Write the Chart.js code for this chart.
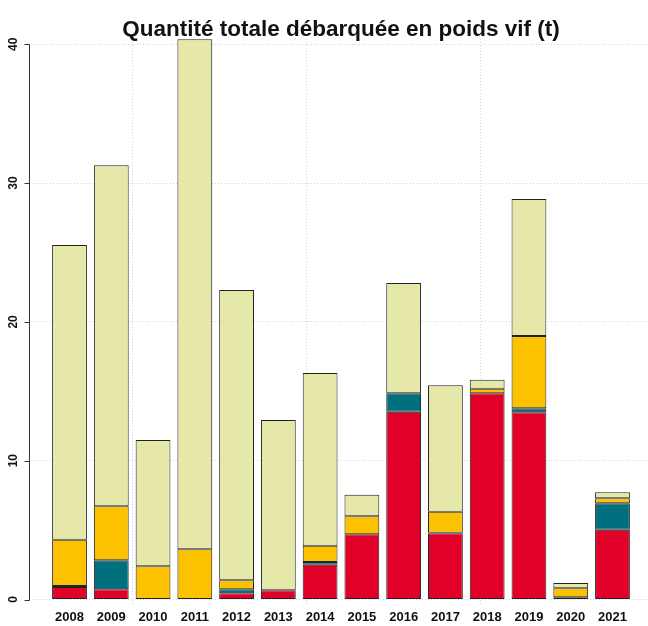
<!DOCTYPE html>
<html lang="fr">
<head>
<meta charset="utf-8">
<title>Quantité totale débarquée en poids vif</title>
<script src="https://cdn.jsdelivr.net/npm/chart.js@4.4.1/dist/chart.umd.min.js"></script>
<style>
  html, body { margin: 0; padding: 0; background: #fff; overflow: hidden; }
  canvas { display: block; }
</style>
</head>
<body>
<canvas id="chart" width="660" height="626"></canvas>
<script>
// Data (t), one value per stacked segment, bottom to top
const TITLE = 'Quantité totale débarquée en poids vif (t)';
const years = ['2008', '2009', '2010', '2011', '2012', '2013', '2014',
               '2015', '2016', '2017', '2018', '2019', '2020', '2021'];
const redValues    = [0.90, 0.73, 0.00, 0.00, 0.45, 0.66, 2.51, 4.70, 13.53, 4.77, 14.86, 13.49, 0.16, 5.03];
const tealValues   = [0.07, 2.09, 0.00, 0.00, 0.28, 0.00, 0.19, 0.00, 1.33, 0.04, 0.00, 0.29, 0.00, 1.90];
const yellowValues = [3.34, 3.89, 2.39, 3.62, 0.65, 0.00, 1.18, 1.29, 0.00, 1.52, 0.33, 5.20, 0.65, 0.36];
const khakiValues  = [21.23, 24.57, 9.10, 36.74, 20.92, 12.27, 12.44, 1.56, 7.94, 9.10, 0.65, 9.87, 0.38, 0.43];
const yTicks = [0, 10, 20, 30, 40];
const xGridTicks = [0, 5, 10, 15];

// barplot layout: bars of width 1 with a 0.2 gap
const barPos = years.map((_, i) => 0.7 + 1.2 * i);
const X_MIN = -0.464, X_MAX = 17.464;
const Y_MIN = -0.468, Y_MAX = 40.38;

const FONT = '"Liberation Sans", Arial, sans-serif';
const GRID_COLOR = '#d3d3d3';

function makeSet(label, values, color) {
    return {
        label: label,
        data: values.map((v, i) => ({ x: barPos[i], y: v })),
        backgroundColor: color,
        borderColor: '#222',
        borderWidth: 1,
        borderSkipped: false,
        barPercentage: 1,
        categoryPercentage: 1 / 1.2,
        clip: false
    };
}

// axis line, rotated y labels and the title, drawn like base R
const rAxisPlugin = {
    id: 'rAxis',
    afterDraw(chart) {
        const { ctx, chartArea, scales } = chart;
        const y = scales.y;
        const x0 = Math.round(chartArea.left) + 0.5;
        ctx.save();
        ctx.strokeStyle = '#333';
        ctx.lineWidth = 1;
        ctx.beginPath();
        ctx.moveTo(x0, Math.round(y.getPixelForValue(yTicks[0])) + 0.5);
        ctx.lineTo(x0, Math.round(y.getPixelForValue(yTicks[yTicks.length - 1])) + 0.5);
        yTicks.forEach(v => {
            const py = Math.round(y.getPixelForValue(v)) + 0.5;
            ctx.moveTo(x0 - 5, py);
            ctx.lineTo(x0, py);
        });
        ctx.stroke();

        ctx.fillStyle = '#111';
        ctx.font = 'bold 12px ' + FONT;
        ctx.textAlign = 'center';
        ctx.textBaseline = 'middle';
        yTicks.forEach(v => {
            ctx.save();
            ctx.translate(14, y.getPixelForValue(v));
            ctx.rotate(-Math.PI / 2);
            ctx.fillText(String(v), 0, 0);
            ctx.restore();
        });

        ctx.font = 'bold 22.5px ' + FONT;
        ctx.textBaseline = 'alphabetic';
        ctx.fillText(TITLE, (chartArea.left + chartArea.right) / 2, 36);
        ctx.restore();
    }
};

const chart = new Chart(document.getElementById('chart'), {
    type: 'bar',
    data: {
        datasets: [
            makeSet('rouge', redValues, '#E00028'),
            makeSet('bleu', tealValues, '#00707F'),
            makeSet('jaune', yellowValues, '#FCC200'),
            makeSet('kaki', khakiValues, '#E6E8AA')
        ]
    },
    options: {
        responsive: false,
        animation: false,
        layout: { padding: { top: 39, right: 7, bottom: 0, left: 0 } },
        plugins: {
            legend: { display: false },
            title: { display: false },
            tooltip: { enabled: false }
        },
        scales: {
            x: {
                type: 'linear',
                stacked: true,
                offset: false,
                min: X_MIN,
                max: X_MAX,
                position: 'bottom',
                grid: { display: false },
                border: { display: false },
                afterBuildTicks: scale => { scale.ticks = barPos.map(v => ({ value: v })); },
                afterFit: scale => { scale.height = 20; },
                ticks: {
                    autoSkip: false,
                    maxRotation: 0,
                    padding: -4,
                    color: '#111',
                    font: { family: FONT, size: 13, weight: 'bold' },
                    callback: (value, index) => years[index]
                }
            },
            x2: {
                type: 'linear',
                offset: false,
                min: X_MIN,
                max: X_MAX,
                position: 'bottom',
                afterBuildTicks: scale => { scale.ticks = xGridTicks.map(v => ({ value: v })); },
                afterFit: scale => { scale.height = 0; },
                grid: { color: GRID_COLOR, drawTicks: false },
                border: { display: false, dash: [1, 2] },
                ticks: { display: false }
            },
            y: {
                stacked: true,
                min: Y_MIN,
                max: Y_MAX,
                afterBuildTicks: scale => { scale.ticks = yTicks.map(v => ({ value: v })); },
                afterFit: scale => { scale.width = 29; },
                grid: { color: GRID_COLOR, drawTicks: false },
                border: { display: false, dash: [1, 2] },
                ticks: { display: false }
            }
        }
    },
    plugins: [rAxisPlugin]
});
</script>
</body>
</html>
